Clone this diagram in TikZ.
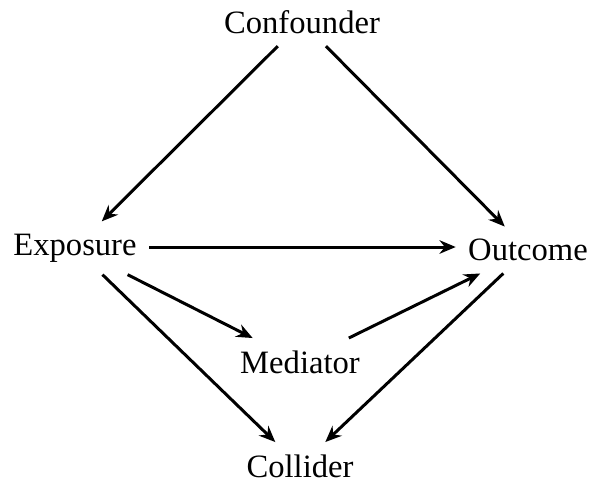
\documentclass[tikz,border=0pt]{standalone}
\usepackage{fontspec}
\setmainfont{Liberation Serif}
\usetikzlibrary{arrows.meta}
\begin{document}
\begin{tikzpicture}[x=0.368pt,y=-0.368pt,
  var/.style={font=\fontsize{12}{14}\selectfont, inner sep=4.4pt},
  edge/.style={-{Stealth[length=6pt,width=5pt,inset=2pt]}, line width=1.1pt}]
\useasboundingbox (0,0) rectangle (589,489);
\node[var] (conf) at (302,22) {Confounder};
\node[var] (exp) at (75,248) {Exposure};
\node[var] (out) at (528,250) {Outcome};
\node[var] (med) at (300,362) {Mediator};
\node[var] (col) at (300,466) {Collider};
\draw[edge] (conf) -- (exp);
\draw[edge] (conf) -- (out);
\draw[edge] (exp.east |- 0,247) -- (out.west |- 0,247);
\draw[edge] (exp) -- (med);
\draw[edge] (med) -- (out);
\draw[edge] (exp) -- (col);
\draw[edge] (out) -- (col);
\end{tikzpicture}
\end{document}
